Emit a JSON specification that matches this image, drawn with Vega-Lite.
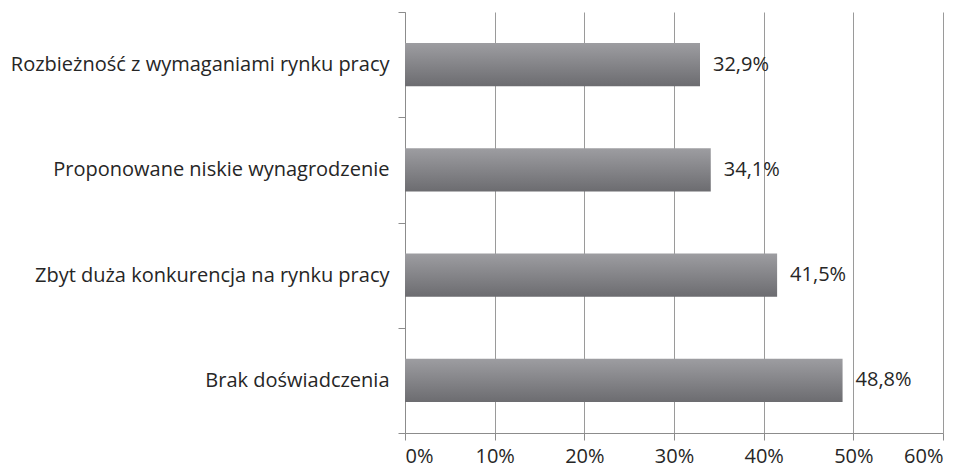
{
  "$schema": "https://vega.github.io/schema/vega-lite/v6.json",
  "width": 538,
  "height": 421,
  "autosize": {"type": "none"},
  "padding": {"left": 405, "top": 12, "right": 22, "bottom": 39},
  "background": "white",
  "config": {
    "view": {"stroke": null},
    "font": "Open Sans",
    "locale": {"number": {"decimal": ",", "thousands": " ", "grouping": [3], "currency": ["", " zł"]}}
  },
  "data": {
    "values": [
      {"kategoria": "Rozbieżność z wymaganiami rynku pracy", "wartosc": 0.329},
      {"kategoria": "Proponowane niskie wynagrodzenie", "wartosc": 0.341},
      {"kategoria": "Zbyt duża konkurencja na rynku pracy", "wartosc": 0.415},
      {"kategoria": "Brak doświadczenia", "wartosc": 0.488}
    ]
  },
  "encoding": {
    "y": {
      "field": "kategoria",
      "type": "nominal",
      "sort": null,
      "scale": {"paddingInner": 0, "paddingOuter": 0},
      "axis": {
        "title": null,
        "tickBand": "extent",
        "tickSize": 7,
        "tickColor": "#8c8c8c",
        "domainColor": "#8c8c8c",
        "labelFontSize": 20,
        "labelColor": "#262626",
        "labelPadding": 9,
        "labelLimit": 420,
        "labelFont": "Open Sans"
      }
    },
    "x": {
      "field": "wartosc",
      "type": "quantitative",
      "scale": {"domain": [0, 0.6], "nice": false},
      "axis": {
        "title": null,
        "values": [0, 0.1, 0.2, 0.3, 0.4, 0.5, 0.6],
        "format": ".0%",
        "grid": true,
        "gridColor": "#9a9a9a",
        "tickColor": "#8c8c8c",
        "domainColor": "#8c8c8c",
        "tickSize": 7,
        "labelFontSize": 20,
        "labelColor": "#262626",
        "labelPadding": 6,
        "labelFont": "Open Sans"
      }
    }
  },
  "layer": [
    {
      "mark": {
        "type": "bar",
        "height": {"band": 0.41},
        "color": {
          "gradient": "linear",
          "x1": 0, "y1": 0, "x2": 0, "y2": 1,
          "stops": [
            {"offset": 0, "color": "#9d9da1"},
            {"offset": 1, "color": "#6c6c70"}
          ]
        }
      }
    },
    {
      "mark": {"type": "text", "align": "left", "dx": 13, "fontSize": 20, "color": "#262626", "font": "Open Sans"},
      "encoding": {"text": {"field": "wartosc", "type": "quantitative", "format": ".1%"}}
    }
  ]
}
